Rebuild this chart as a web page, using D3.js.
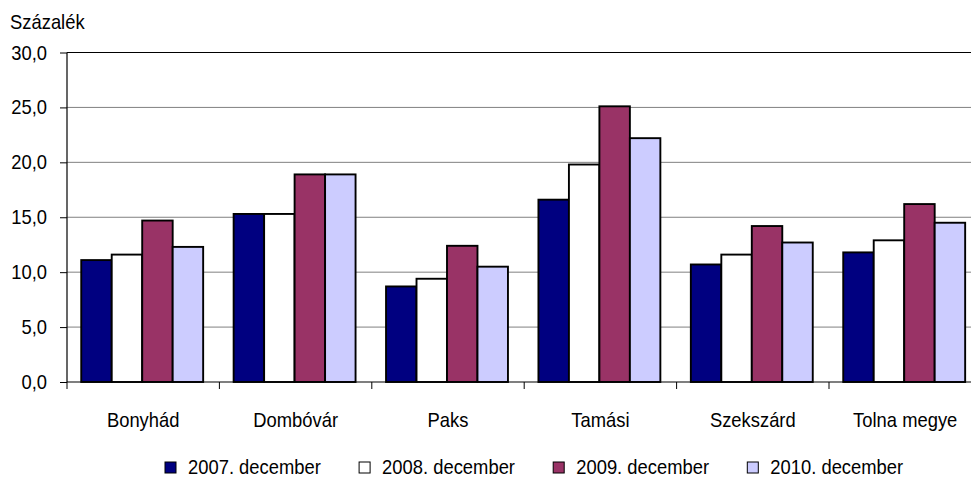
<!DOCTYPE html>
<html>
<head>
<meta charset="utf-8">
<script src="https://cdn.jsdelivr.net/npm/d3@7"></script>
<style>
  html, body { margin: 0; padding: 0; background: #fff; }
  svg { display: block; }
  text { font-family: "Liberation Sans", Arial, sans-serif; fill: #000; }
</style>
</head>
<body>
<svg id="chart" width="971" height="478"></svg>
<script>
const categories = ["Bonyhád", "Dombóvár", "Paks", "Tamási", "Szekszárd", "Tolna megye"];
const seriesNames = ["2007. december", "2008. december", "2009. december", "2010. december"];
const values2007 = [11.1, 15.3, 8.7, 16.6, 10.7, 11.8];
const values2008 = [11.6, 15.3, 9.4, 19.8, 11.6, 12.9];
const values2009 = [14.7, 18.9, 12.4, 25.1, 14.2, 16.2];
const values2010 = [12.3, 18.9, 10.5, 22.2, 12.7, 14.5];
const yTicks = [0, 5, 10, 15, 20, 25, 30];
const yTitle = "Százalék";
const colors = ["#000080", "#FFFFFF", "#993366", "#CCCCFF"];

(function () {
const seriesValues = [values2007, values2008, values2009, values2010];

const svg = d3.select("#chart");
const W = 971;
const plotLeft = 67, plotTop = 52.5, plotBottom = 382;
const step = 152.4;

const x0 = d3.scaleBand().domain(categories).range([plotLeft, plotLeft + step * categories.length]).padding(0);
const x1 = d3.scaleBand().domain(seriesNames).range([-1, x0.bandwidth() - 1]).paddingInner(0).paddingOuter(0.5);
const y = d3.scaleLinear().domain([0, 30]).range([plotBottom, plotTop]);

function label(g, str, x, yy, anchor) {
  return g.append("text")
    .attr("transform", `translate(${x},${yy}) scale(0.92,1)`)
    .attr("text-anchor", anchor || "start")
    .style("font-size", "20px")
    .text(str);
}

// gridlines
svg.append("g").selectAll("line").data(yTicks.filter(t => t > 0 && t < 30)).join("line")
  .attr("x1", plotLeft).attr("x2", W)
  .attr("y1", d => y(d)).attr("y2", d => y(d))
  .attr("stroke", "#808080").attr("stroke-width", 1);

// top border line
svg.append("line").attr("x1", plotLeft).attr("x2", W).attr("y1", y(30)).attr("y2", y(30))
  .attr("stroke", "#000").attr("stroke-width", 1.2);

// bars
const groups = svg.append("g").selectAll("g").data(categories).join("g")
  .attr("transform", d => `translate(${x0(d)},0)`);
groups.selectAll("rect").data((c, i) => seriesNames.map((s, j) => ({ s, j, v: seriesValues[j][i] }))).join("rect")
  .attr("x", d => x1(d.s))
  .attr("width", x1.bandwidth())
  .attr("y", d => y(d.v))
  .attr("height", d => y(0) - y(d.v))
  .attr("fill", d => colors[d.j])
  .attr("stroke", "#000").attr("stroke-width", 1.9);

// y axis
const yAxis = d3.axisLeft(y).tickValues(yTicks).tickSize(7).tickFormat(() => "");
const yg = svg.append("g").attr("transform", `translate(${plotLeft},0)`).call(yAxis);
yg.select(".domain").remove();
yg.selectAll(".tick line").attr("stroke", "#000");
svg.append("line").attr("x1", plotLeft).attr("x2", plotLeft).attr("y1", plotTop).attr("y2", plotBottom)
  .attr("stroke", "#000").attr("stroke-width", 1.2);

const fmt = d => d.toFixed(1).replace(".", ",");
yTicks.forEach(t => label(svg, fmt(t), 47, y(t) + 7, "end"));

// x axis
svg.append("line").attr("x1", plotLeft).attr("x2", W).attr("y1", plotBottom).attr("y2", plotBottom)
  .attr("stroke", "#000").attr("stroke-width", 1.2);
const boundaries = d3.range(categories.length + 1).map(i => plotLeft + i * x0.step());
svg.append("g").selectAll("line").data(boundaries).join("line")
  .attr("x1", d => d).attr("x2", d => d).attr("y1", plotBottom).attr("y2", plotBottom + 7)
  .attr("stroke", "#000").attr("stroke-width", 1);

categories.forEach(c => label(svg, c, x0(c) + x0.bandwidth() / 2, 427, "middle"));

// title
label(svg, yTitle, 10, 29, "start");

// legend
const legendX = d3.scalePoint().domain(seriesNames).range([165, 747.3]);
seriesNames.forEach((s, j) => {
  const lx = legendX(s);
  svg.append("rect").attr("x", lx).attr("y", 462).attr("width", 11).attr("height", 11)
    .attr("fill", colors[j]).attr("stroke", "#000").attr("stroke-width", 1);
  label(svg, s, lx + 23, 474, "start");
});
})();
</script>
</body>
</html>
